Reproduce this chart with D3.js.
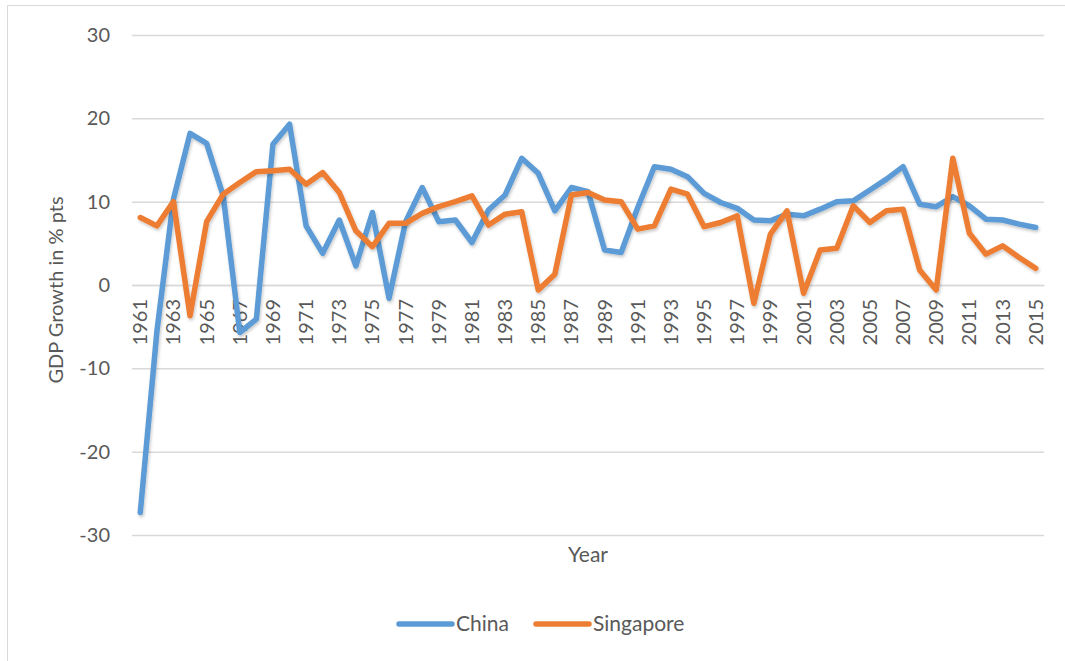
<!DOCTYPE html>
<html>
<head>
<meta charset="utf-8">
<script src="https://cdn.jsdelivr.net/npm/d3@7"></script>
<style>
  body { margin: 0; background: #fff; }
  text { font-family: Lato, "Open Sans", sans-serif; fill: #595959; }
</style>
</head>
<body>
<svg id="chart" width="1065" height="661"></svg>
<script>
var years = d3.range(1961, 2016);
var china = [-27.3, -5.6, 10.3, 18.2, 17.0, 10.7, -5.7, -4.1, 16.9, 19.3,
    7.1, 3.8, 7.8, 2.3, 8.7, -1.6, 7.6, 11.7, 7.6, 7.8,
    5.1, 9.0, 10.8, 15.2, 13.4, 8.9, 11.7, 11.2, 4.2, 3.9,
    9.3, 14.2, 13.9, 13.0, 11.0, 9.9, 9.2, 7.8, 7.7, 8.5,
    8.3, 9.1, 10.0, 10.1, 11.4, 12.7, 14.2, 9.7, 9.4, 10.6,
    9.5, 7.9, 7.8, 7.3, 6.9];
var singapore = [8.1, 7.1, 10.0, -3.7, 7.6, 10.9, 12.3, 13.6, 13.7, 13.9,
    12.1, 13.5, 11.1, 6.5, 4.6, 7.4, 7.4, 8.6, 9.4, 10.0,
    10.7, 7.2, 8.5, 8.8, -0.6, 1.3, 10.8, 11.1, 10.2, 10.0,
    6.7, 7.1, 11.5, 10.9, 7.0, 7.5, 8.3, -2.2, 6.1, 8.9,
    -1.0, 4.2, 4.4, 9.5, 7.5, 8.9, 9.1, 1.8, -0.6, 15.2,
    6.2, 3.7, 4.7, 3.3, 2.0];
var yTicks = [-30, -20, -10, 0, 10, 20, 30];
var seriesNames = ["China", "Singapore"];
var colors = ["#5b9bd5", "#ed7d31"];

var svg = d3.select("#chart");
var margin = {left: 132, right: 21, top: 35, bottom: 126};
var width = 1065, height = 661;

// outer chart border
svg.append("rect")
    .attr("x", 7.5).attr("y", 5.5)
    .attr("width", 1070).attr("height", 700)
    .attr("fill", "none")
    .attr("stroke", "#d9d9d9")
    .attr("stroke-width", 1);

var x = d3.scaleBand()
    .domain(years)
    .range([margin.left, width - margin.right]);

var y = d3.scaleLinear()
    .domain([-30, 30])
    .range([height - margin.bottom, margin.top]);

// gridlines + y labels
var yAxis = d3.axisLeft(y)
    .tickValues(yTicks)
    .tickFormat(function(d) { return String(d); })
    .tickSize(-(width - margin.right - margin.left))
    .tickPadding(22);

svg.append("g")
    .attr("transform", "translate(" + margin.left + ",0)")
    .call(yAxis)
    .call(function(g) {
        g.select(".domain").remove();
        g.selectAll(".tick line").attr("stroke", "#d9d9d9").attr("stroke-width", 1.5);
        g.selectAll(".tick text")
            .style("font-size", "20px")
            .style("fill", "#595959");
    });

// category axis at zero
var xAxis = d3.axisBottom(x)
    .tickValues(years.filter(function(d, i) { return i % 2 === 0; }))
    .tickSize(0);

svg.append("g")
    .attr("transform", "translate(0," + y(0) + ")")
    .call(xAxis)
    .call(function(g) {
        g.select(".domain").attr("stroke", "#d9d9d9").attr("stroke-width", 1.5);
        g.selectAll(".tick text")
            .attr("transform", "rotate(-90)")
            .attr("text-anchor", "end")
            .attr("x", -14)
            .attr("y", 0)
            .attr("dy", "0.35em")
            .style("font-size", "20px")
            .style("fill", "#595959");
    });

// shadow for the lines
var defs = svg.append("defs");
var filt = defs.append("filter").attr("id", "shadow")
    .attr("x", "-5%").attr("y", "-5%").attr("width", "110%").attr("height", "110%");
filt.append("feDropShadow")
    .attr("dx", 1).attr("dy", 2)
    .attr("stdDeviation", 1.5)
    .attr("flood-color", "#000")
    .attr("flood-opacity", 0.22);

var line = d3.line()
    .x(function(d, i) { return x(years[i]) + x.bandwidth() / 2; })
    .y(function(d) { return y(d); });

[china, singapore].forEach(function(series, k) {
    svg.append("path")
        .datum(series)
        .attr("fill", "none")
        .attr("stroke", colors[k])
        .attr("stroke-width", 5.5)
        .attr("stroke-linejoin", "round")
        .attr("stroke-linecap", "round")
        .attr("filter", "url(#shadow)")
        .attr("d", line);
});

// axis titles
svg.append("text")
    .attr("transform", "translate(56," + (y(0) + 5) + ") rotate(-90)")
    .attr("text-anchor", "middle")
    .attr("dy", "0.35em")
    .style("font-size", "20px")
    .text("GDP Growth in % pts");

svg.append("text")
    .attr("x", 588)
    .attr("y", 562)
    .attr("text-anchor", "middle")
    .style("font-size", "21px")
    .text("Year");

// legend
var legendX = [397, 534];
seriesNames.forEach(function(name, k) {
    var g = svg.append("g").attr("transform", "translate(" + legendX[k] + ",624)");
    g.append("line")
        .attr("x1", 2).attr("x2", 55)
        .attr("stroke", colors[k])
        .attr("stroke-width", 5.5)
        .attr("stroke-linecap", "round");
    g.append("text")
        .attr("x", 59)
        .attr("dy", "0.35em")
        .style("font-size", "21px")
        .text(name);
});
</script>
</body>
</html>
